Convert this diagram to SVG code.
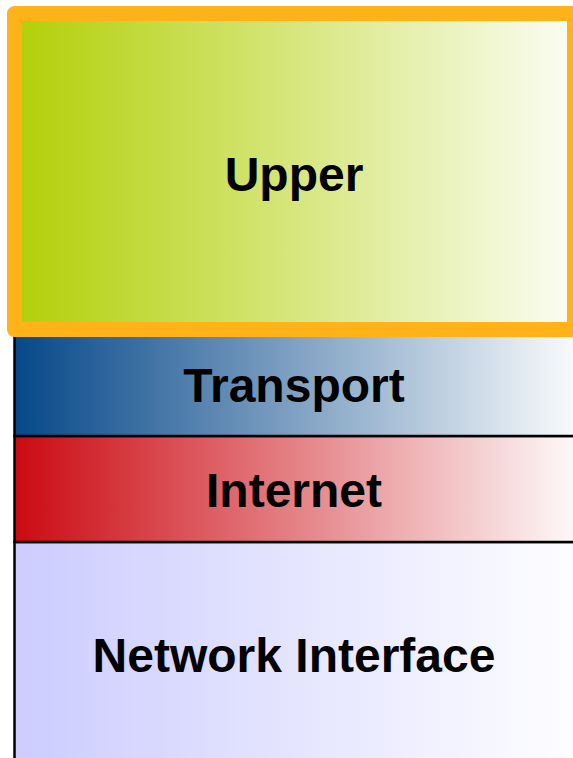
<svg xmlns="http://www.w3.org/2000/svg" width="573" height="758" viewBox="0 0 573 758">
  <defs>
    <linearGradient id="gUpper" gradientUnits="userSpaceOnUse" x1="22" y1="0" x2="572" y2="0">
      <stop offset="0" stop-color="#b3d00a"/>
      <stop offset="1" stop-color="#fbfdf3"/>
    </linearGradient>
    <linearGradient id="gTransport" gradientUnits="userSpaceOnUse" x1="15" y1="0" x2="590" y2="0">
      <stop offset="0" stop-color="#064889"/>
      <stop offset="1" stop-color="#ffffff"/>
    </linearGradient>
    <linearGradient id="gInternet" gradientUnits="userSpaceOnUse" x1="15" y1="0" x2="590" y2="0">
      <stop offset="0" stop-color="#cb0a12"/>
      <stop offset="1" stop-color="#ffffff"/>
    </linearGradient>
    <linearGradient id="gNet" gradientUnits="userSpaceOnUse" x1="15" y1="0" x2="590" y2="0">
      <stop offset="0" stop-color="#ccccff"/>
      <stop offset="1" stop-color="#ffffff"/>
    </linearGradient>
  </defs>
  <style>
    .layer { stroke: #000000; stroke-width: 2.5; }
    .label { font-family: "Liberation Sans", Arial, sans-serif; font-weight: bold; font-size: 48px; fill: #000000; text-anchor: middle; }
  </style>
  <g id="network-interface">
    <rect class="layer" x="14.5" y="542" width="580" height="230" fill="url(#gNet)"/>
    <text class="label" x="294" y="672">Network Interface</text>
  </g>
  <g id="internet">
    <rect class="layer" x="14.5" y="436" width="580" height="106" fill="url(#gInternet)"/>
    <text class="label" x="294" y="507">Internet</text>
  </g>
  <g id="transport">
    <rect class="layer" x="14.5" y="320" width="580" height="116" fill="url(#gTransport)"/>
    <text class="label" x="294" y="402">Transport</text>
  </g>
  <g id="upper">
    <rect x="14.5" y="13.5" width="560" height="316" fill="url(#gUpper)" stroke="#ffb318" stroke-width="15" stroke-linejoin="round"/>
    <text class="label" x="294" y="191">Upper</text>
  </g>
  <g id="connectors"/>
</svg>
